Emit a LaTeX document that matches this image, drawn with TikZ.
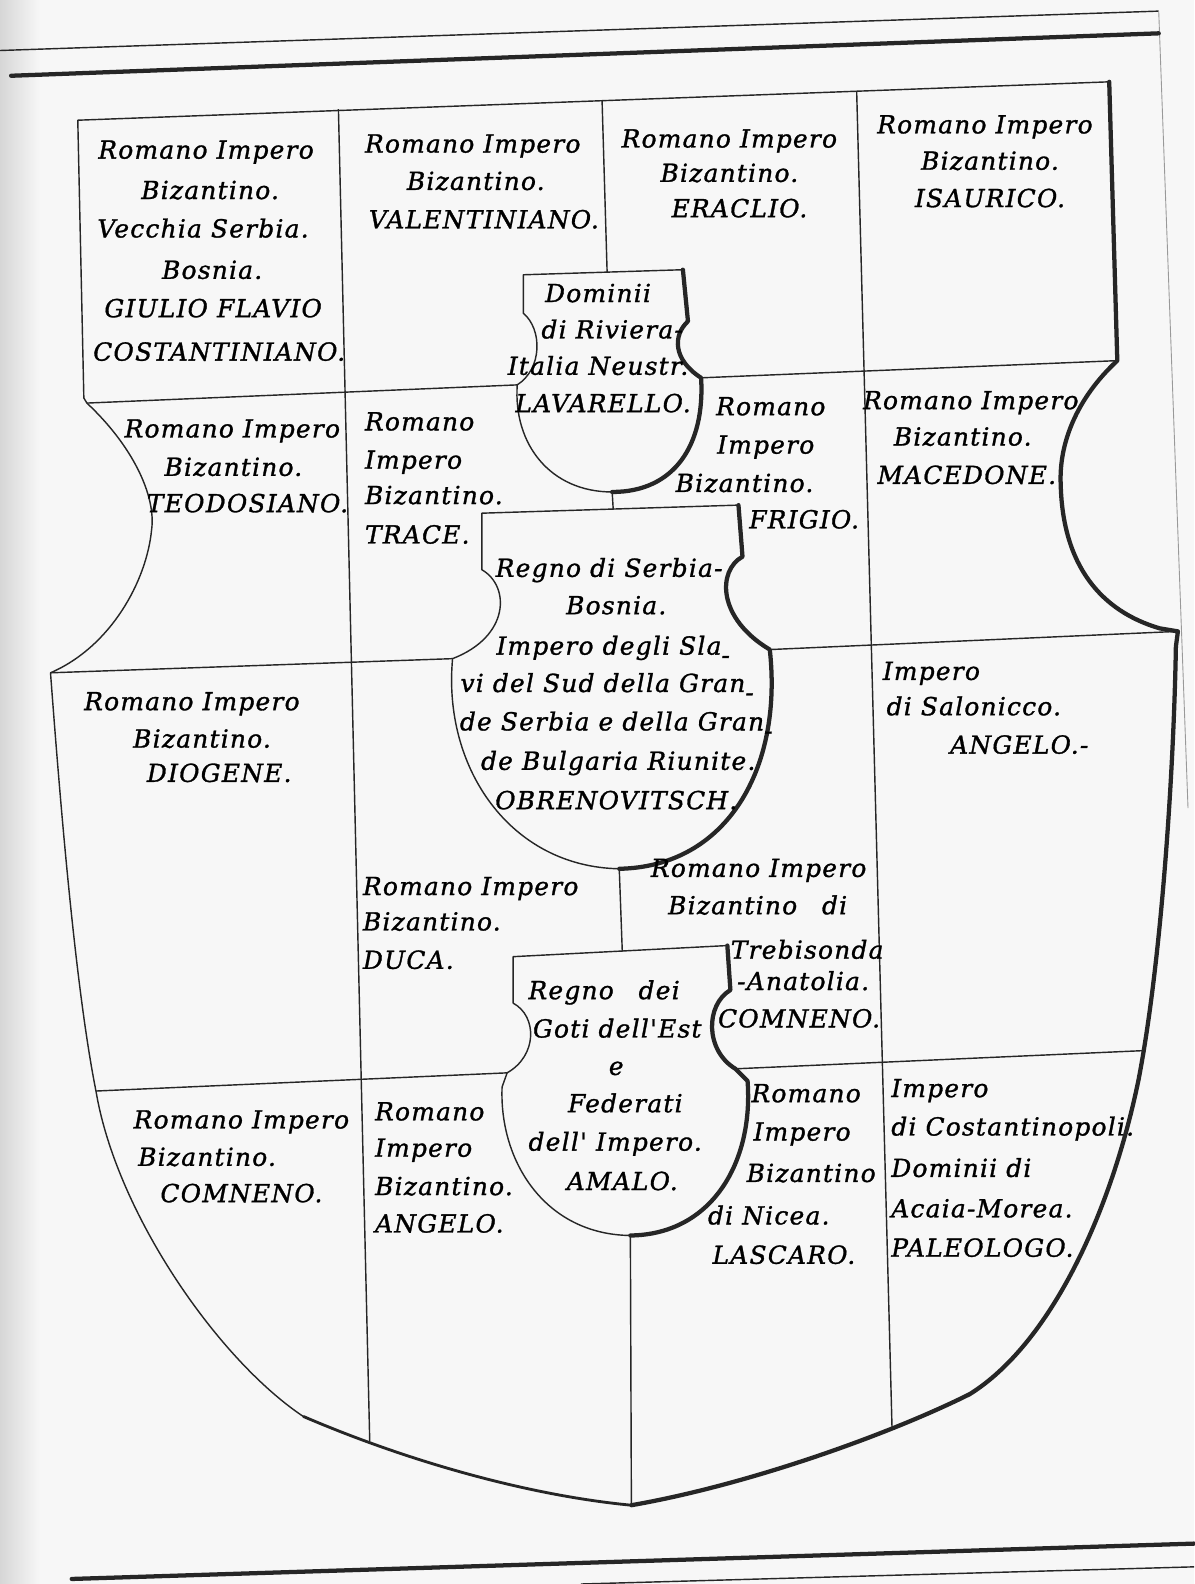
\documentclass[tikz,border=0pt]{standalone}
\usepackage{fontspec}
\setmainfont{DejaVu Serif}
\newfontfamily\stemmafont[LetterSpace=5,FakeBold=1.2]{DejaVu Serif}
\newcommand\stemma{\stemmafont\itshape\fontsize{14}{16}\selectfont}
\newcommand\hyph{\raisebox{-0.7ex}{-}}
\begin{document}
\begin{tikzpicture}[
        x=0.02cm, y=-0.02cm,
        rule/.style = {line width=0.8pt, line join=round, draw=black!85},
        shadow/.style = {line width=2.4pt, line join=round, line cap=round, draw=black!85},
        txt/.style = {font=\stemma, anchor=base, inner sep=0pt, text=black},
        txtl/.style = {txt, anchor=base west},
]
    \useasboundingbox (0,0) rectangle (1182,1568);
    \fill[black!3] (0,0) rectangle (1182,1568);
    \shade[left color=black!16, right color=black!3] (0,0) rectangle (40,1568);

    % page rules
    \draw[rule] (0,50) -- (1147,11);
    \draw[rule, draw=black!40, line width=0.5pt] (1147,11) -- (1176,800);
    \draw[shadow] (11,75) -- (1147,33);
    \draw[shadow] (71,1563) -- (1182,1528);
    \draw[rule] (575,1568) -- (1182,1551);

    % outline of the shield
    \coordinate (tl) at (77,119);
    \coordinate (tr) at (1098,81);
    \coordinate (l1) at (86,399);
    \coordinate (l2) at (50,666);
    \coordinate (l3) at (95,1080);
    \coordinate (r1) at (1106,357);
    \coordinate (r2) at (1166,625);
    \coordinate (r3) at (1132,1040);
    \coordinate (bot) at (625,1490);
    \draw[rule, line width=1.6pt] (bot) .. controls (520,1480) and (400,1445) .. (300,1402);
    \draw[rule] (300,1402) .. controls (215,1345) and (115,1200) .. (l3)
        .. controls (75,980) and (60,800) .. (l2)
        .. controls (110,640) and (145,575) .. (150,525)
        .. controls (155,490) and (130,440) .. (l1) -- (83,394) -- (tl) -- (tr);
    \draw[shadow] (tr) -- (r1) .. controls (1065,395) and (1048,440) .. (1050,480)
        .. controls (1052,560) and (1090,605) .. (1148,622) -- (r2) -- (1164,640)
        .. controls (1162,760) and (1150,950) .. (1127,1069)
        .. controls (1100,1200) and (1040,1330) .. (960,1380)
        .. controls (880,1420) and (740,1470) .. (bot);

    % small shields in the middle
    \coordinate (e1tl) at (518,272);
    \coordinate (e1tr) at (676,267);
    \coordinate (e1ln) at (518,310);
    \coordinate (e1le) at (512,381);
    \coordinate (e1rn) at (681,318);
    \coordinate (e1re) at (694,374);
    \coordinate (e1b) at (606,487);
    \draw[rule] (e1b) .. controls (545,487) and (508,440) .. (e1le)
        .. controls (537,365) and (537,326) .. (e1ln) -- (e1tl) -- (e1tr);
    \draw[shadow] (e1tr) -- (e1rn) .. controls (666,332) and (666,356) .. (e1re)
        .. controls (698,440) and (668,487) .. (e1b);

    \coordinate (e2tl) at (477,508);
    \coordinate (e2tr) at (731,500);
    \coordinate (e2ln) at (477,564);
    \coordinate (e2le) at (448,652);
    \coordinate (e2rn) at (735,551);
    \coordinate (e2re) at (762,643);
    \coordinate (e2b) at (613,860);
    \draw[rule] (e2b) .. controls (505,858) and (438,760) .. (e2le)
        .. controls (505,630) and (505,580) .. (e2ln) -- (e2tl) -- (e2tr);
    \draw[shadow] (e2tr) -- (e2rn) .. controls (710,565) and (710,612) .. (e2re)
        .. controls (775,760) and (720,858) .. (e2b);

    \coordinate (e3tl) at (508,947);
    \coordinate (e3tr) at (720,936);
    \coordinate (e3ln) at (508,993);
    \coordinate (e3le) at (502,1062);
    \coordinate (e3rn) at (723,980);
    \coordinate (e3re) at (728,1058);
    \coordinate (e3b) at (624,1223);
    \draw[rule] (e3b) .. controls (540,1222) and (494,1150) .. (497,1076) -- (e3le)
        .. controls (532,1045) and (532,1006) .. (e3ln) -- (e3tl) -- (e3tr);
    \draw[shadow] (e3tr) -- (e3rn) .. controls (698,995) and (698,1040) .. (e3re)
        -- (740,1070) .. controls (746,1150) and (705,1222) .. (e3b);

    % partition lines
    \draw[rule] (335,108) -- (366,1427);
    \draw[rule] (848,90) -- (883,1413);
    \draw[rule] (596,100) -- (601,270);
    \draw[rule] (e1b) -- (607,504);
    \draw[rule] (e2b) -- (616,942);
    \draw[rule] (e3b) -- (bot);
    \draw[rule] (l1) -- (e1le);
    \draw[rule] (e1re) -- (r1);
    \draw[rule] (l2) -- (e2le);
    \draw[rule] (e2re) -- (r2);
    \draw[rule] (l3) -- (e3le);
    \draw[rule] (e3re) -- (r3);

    % first row
    \foreach \x/\y/\t [count=\i] in {204/157/Romano Impero, 208/197/Bizantino., 201/235/Vecchia Serbia.,
            210/276/Bosnia., 211/314/GIULIO FLAVIO, 217/357/COSTANTINIANO.}
        \node[txt] (giulio\i) at (\x,\y) {\t};
    \foreach \x/\y/\t [count=\i] in {468/151/Romano Impero, 471/188/Bizantino., 479/226/VALENTINIANO.}
        \node[txt] (valent\i) at (\x,\y) {\t};
    \foreach \x/\y/\t [count=\i] in {722/146/Romano Impero, 722/180/Bizantino., 732/215/ERACLIO.}
        \node[txt] (eraclio\i) at (\x,\y) {\t};
    \foreach \x/\y/\t [count=\i] in {975/132/Romano Impero, 980/168/Bizantino., 980/205/ISAURICO.}
        \node[txt] (isaur\i) at (\x,\y) {\t};

    % second row
    \foreach \x/\y/\t [count=\i] in {230/433/Romano Impero, 231/471/Bizantino., 245/507/TEODOSIANO.}
        \node[txt] (teodos\i) at (\x,\y) {\t};
    \foreach \y/\t [count=\i] in {426/Romano, 464/Impero, 499/Bizantino., 538/TRACE.}
        \node[txtl] (trace\i) at (361,\y) {\t};
    \foreach \x/\y/\t [count=\i] in {763/411/Romano, 758/449/Impero, 737/487/Bizantino., 796/523/FRIGIO.}
        \node[txt] (frigio\i) at (\x,\y) {\t};
    \foreach \x/\y/\t [count=\i] in {961/405/Romano Impero, 953/441/Bizantino., 957/479/MACEDONE.}
        \node[txt] (maced\i) at (\x,\y) {\t};

    % third row
    \foreach \x/\y/\t [count=\i] in {190/703/Romano Impero, 200/740/Bizantino., 217/774/DIOGENE.}
        \node[txt] (diog\i) at (\x,\y) {\t};
    \foreach \y/\t [count=\i] in {886/Romano Impero, 921/Bizantino., 959/DUCA.}
        \node[txtl] (duca\i) at (359,\y) {\t};
    \foreach \x/\y/\t [count=\i] in {751/868/Romano Impero, 750/905/{Bizantino\quad di}, 799/949/Trebisonda,
            795/980/-Anatolia., 791/1017/COMNENO.}
        \node[txt] (trebis\i) at (\x,\y) {\t};
    \foreach \x/\y/\t [count=\i] in {922/673/Impero, 964/708/di Salonicco., 1009/746/ANGELO.-}
        \node[txt] (salon\i) at (\x,\y) {\t};

    % fourth row
    \foreach \x/\y/\t [count=\i] in {239/1117/Romano Impero, 205/1154/Bizantino., 239/1190/COMNENO.}
        \node[txt] (comn\i) at (\x,\y) {\t};
    \foreach \y/\t [count=\i] in {1109/Romano, 1145/Impero, 1183/Bizantino., 1220/ANGELO.}
        \node[txtl] (angelo\i) at (371,\y) {\t};
    \foreach \x/\y/\t [count=\i] in {798/1091/Romano, 794/1129/Impero, 803/1170/Bizantino,
            761/1212/di Nicea., 776/1251/LASCARO.}
        \node[txt] (lascar\i) at (\x,\y) {\t};
    \foreach \y/\t [count=\i] in {1086/Impero, 1124/di Costantinopoli., 1165/Dominii di,
            1205/Acaia-Morea., 1244/PALEOLOGO.}
        \node[txtl] (paleol\i) at (882,\y) {\t};

    % small shields
    \foreach \x/\y/\t [count=\i] in {592/299/Dominii, 606/335/di Riviera-, 592/371/Italia Neustr., 597/408/LAVARELLO.}
        \node[txt] (lavar\i) at (\x,\y) {\t};
    \foreach \x/\y/\t [count=\i] in {603/571/Regno di Serbia-, 610/608/Bosnia., 607/648/Impero degli Sla\hyph,
            601/685/vi del Sud della Gran\hyph, 610/723/de Serbia e della Gran\hyph,
            612/762/de Bulgaria Riunite., 610/801/OBRENOVITSCH.}
        \node[txt] (obren\i) at (\x,\y) {\t};
    \foreach \x/\y/\t [count=\i] in {598/989/{Regno\quad dei}, 611/1027/Goti dell'Est, 610/1064/e,
            619/1101/Federati, 609/1139/dell' Impero., 616/1178/AMALO.}
        \node[txt] (amalo\i) at (\x,\y) {\t};
\end{tikzpicture}
\end{document}
